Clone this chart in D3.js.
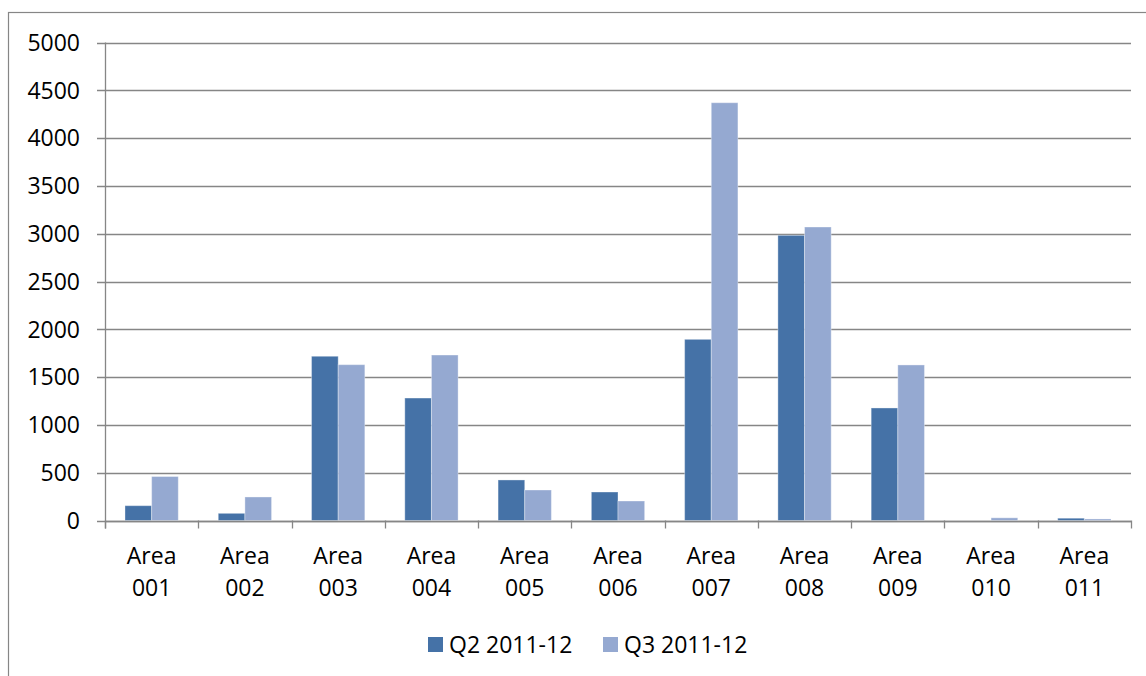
<!DOCTYPE html>
<html>
<head>
<meta charset="utf-8">
<script src="https://cdn.jsdelivr.net/npm/d3@7"></script>
<style>
  body { margin: 0; background: #fff; }
  svg { display: block; font-family: "Open Sans", sans-serif; }
</style>
</head>
<body>
<svg id="chart" width="1146" height="676"></svg>
<script>
// values
const areas = ['Area 001', 'Area 002', 'Area 003', 'Area 004', 'Area 005', 'Area 006',
               'Area 007', 'Area 008', 'Area 009', 'Area 010', 'Area 011'];
const seriesNames = ['Q2 2011-12', 'Q3 2011-12'];
const q2 = [155, 75, 1718, 1281, 424, 298, 1895, 2983, 1177, 0, 24];
const q3 = [460, 246, 1630, 1731, 319, 204, 4370, 3070, 1627, 28, 16];
const yTicks = [0, 500, 1000, 1500, 2000, 2500, 3000, 3500, 4000, 4500, 5000];
const colors = ['#4572A7', '#95A9D1'];

const plotLeft = 105, plotRight = 1131, plotTop = 42.5, plotBottom = 520.5;
const grey = '#868686';
const fontSize = 23;

const svg = d3.select('#chart');

// outer chart frame (runs off the right and bottom edges)
svg.append('rect')
    .attr('x', 8.5).attr('y', 12.5)
    .attr('width', 1160).attr('height', 700)
    .attr('fill', 'none')
    .attr('stroke', grey)
    .attr('stroke-width', 1.2);

const x = d3.scaleBand().domain(areas).range([plotLeft, plotRight]);
const y = d3.scaleLinear().domain([0, 5000]).range([plotBottom, plotTop]);

// bar width from a 150% gap width
const barW = x.bandwidth() / 3.5;
const gap = barW * 0.75;

// gridlines
svg.append('g')
    .selectAll('line')
    .data(yTicks)
    .join('line')
    .attr('x1', plotLeft - 8)
    .attr('x2', plotRight)
    .attr('y1', d => Math.round(y(d)) + 0.5)
    .attr('y2', d => Math.round(y(d)) + 0.5)
    .attr('stroke', grey)
    .attr('stroke-width', 1.3);

// y tick labels
svg.append('g')
    .selectAll('text')
    .data(yTicks)
    .join('text')
    .attr('x', 80)
    .attr('y', d => y(d))
    .attr('dy', '0.36em')
    .attr('text-anchor', 'end')
    .attr('font-size', fontSize)
    .attr('fill', '#000')
    .text(d => d);

// bars
const series = [q2, q3];
series.forEach((vals, s) => {
    svg.append('g')
        .selectAll('rect')
        .data(vals)
        .join('rect')
        .attr('x', (d, i) => x(areas[i]) + gap + s * barW)
        .attr('y', d => y(d))
        .attr('width', barW)
        .attr('height', d => plotBottom - y(d))
        .attr('fill', colors[s])
        .attr('stroke', d => d > 0 ? 'rgba(255,255,255,0.35)' : 'none')
        .attr('stroke-width', 1);
});

// y axis line
svg.append('line')
    .attr('x1', plotLeft + 0.5).attr('x2', plotLeft + 0.5)
    .attr('y1', plotTop).attr('y2', plotBottom + 8)
    .attr('stroke', grey).attr('stroke-width', 1.3);

// x axis baseline and category ticks
svg.append('line')
    .attr('x1', plotLeft).attr('x2', plotRight)
    .attr('y1', Math.round(plotBottom) + 0.5).attr('y2', Math.round(plotBottom) + 0.5)
    .attr('stroke', grey).attr('stroke-width', 1.3);

svg.append('g')
    .selectAll('line')
    .data(areas.map(a => x(a)).concat([plotRight]))
    .join('line')
    .attr('x1', d => Math.round(d) + 0.5)
    .attr('x2', d => Math.round(d) + 0.5)
    .attr('y1', plotBottom)
    .attr('y2', plotBottom + 8)
    .attr('stroke', grey).attr('stroke-width', 1.3);

// category labels on two lines
const lab = svg.append('g')
    .selectAll('text')
    .data(areas)
    .join('text')
    .attr('text-anchor', 'middle')
    .attr('font-size', fontSize)
    .attr('fill', '#000');

lab.append('tspan')
    .attr('x', d => x(d) + x.bandwidth() / 2)
    .attr('y', 564)
    .text(d => d.split(' ')[0]);

lab.append('tspan')
    .attr('x', d => x(d) + x.bandwidth() / 2)
    .attr('y', 596)
    .text(d => d.split(' ')[1]);

// legend
const legendX = [428, 603];
const legend = svg.append('g')
    .selectAll('g')
    .data(seriesNames)
    .join('g')
    .attr('transform', (d, i) => `translate(${legendX[i]},637)`);

legend.append('rect')
    .attr('width', 15).attr('height', 15)
    .attr('fill', (d, i) => colors[i]);

legend.append('text')
    .attr('x', 21)
    .attr('y', 7.5)
    .attr('dy', '0.36em')
    .attr('font-size', fontSize)
    .attr('fill', '#000')
    .text(d => d);
</script>
</body>
</html>
